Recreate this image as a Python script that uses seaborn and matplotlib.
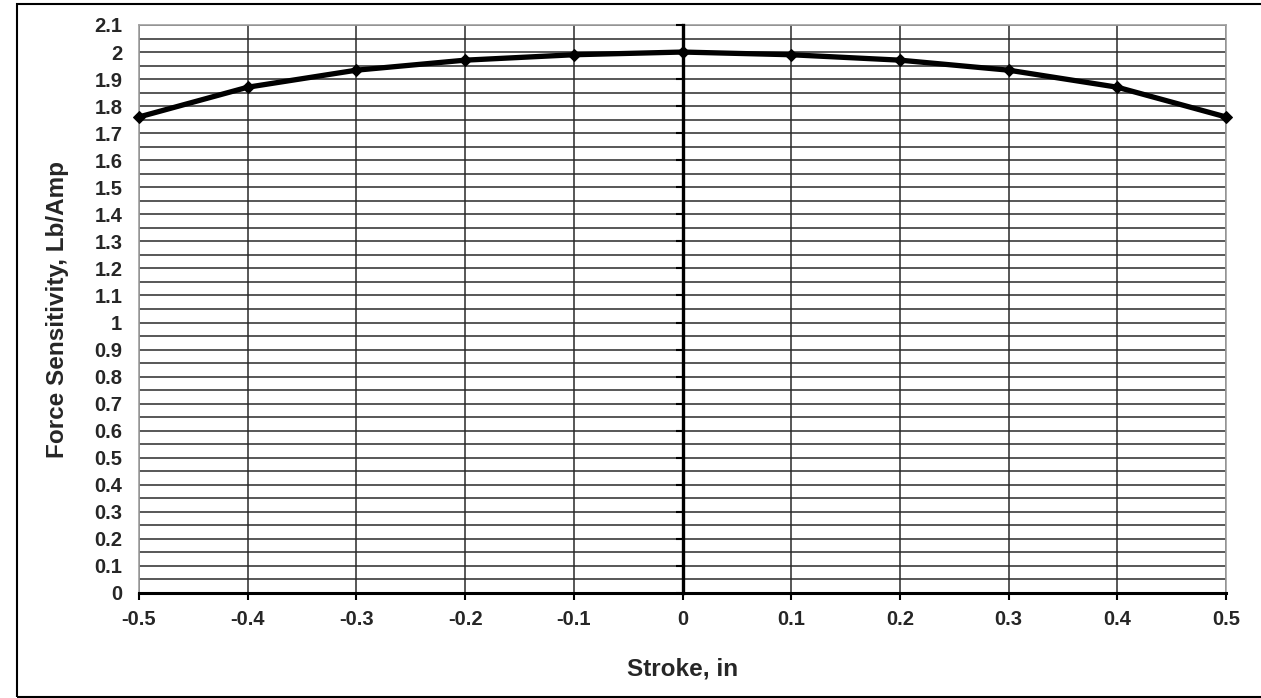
import matplotlib
matplotlib.use("Agg")
import matplotlib.pyplot as plt
import seaborn as sns
import numpy as np
import pandas as pd
from matplotlib.patches import Rectangle
from matplotlib.ticker import MultipleLocator

stroke = [-0.5, -0.4, -0.3, -0.2, -0.1, 0.0, 0.1, 0.2, 0.3, 0.4, 0.5]
sensitivity = [1.76, 1.87, 1.933, 1.97, 1.99, 2.0, 1.99, 1.97, 1.933, 1.87, 1.76]
x_ticks = [-0.5, -0.4, -0.3, -0.2, -0.1, 0, 0.1, 0.2, 0.3, 0.4, 0.5]
x_tick_labels = ["-0.5", "-0.4", "-0.3", "-0.2", "-0.1", "0", "0.1", "0.2", "0.3", "0.4", "0.5"]
y_ticks = [round(i * 0.1, 1) for i in range(22)]
y_tick_labels = [f"{v:g}" for v in y_ticks]

sns.set_theme(style="white")
plt.rcParams['font.family'] = ['Liberation Sans', 'DejaVu Sans']
plt.rcParams['font.weight'] = 'bold'

df = pd.DataFrame({"stroke": stroke, "sens": sensitivity})

fig = plt.figure(figsize=(12.61, 6.98), dpi=100)
ax = fig.add_axes([139/1261, 1 - 593/698, (1226-139)/1261, (593-25)/698])

# grid
ax.set_axisbelow(True)
ax.yaxis.set_minor_locator(MultipleLocator(0.05))
ax.grid(True, which='both', axis='y', color='#2a2a2a', lw=1.1)
ax.grid(True, which='major', axis='x', color='#2a2a2a', lw=1.1)

sns.lineplot(data=df, x="stroke", y="sens", ax=ax, color='black', lw=3.8,
             marker='D', markersize=6, markeredgecolor='black', zorder=5, clip_on=False)

ax.set_xlim(-0.5, 0.5)
ax.set_ylim(0, 2.1)
ax.set_xticks(x_ticks)
ax.set_xticklabels(x_tick_labels, fontsize=14.5, fontweight='bold')
ax.set_yticks(y_ticks)
ax.set_yticklabels(y_tick_labels, fontsize=14.5, fontweight='bold')

ax.tick_params(axis='x', which='major', direction='out', length=5, width=1.5, color='black', pad=7, bottom=True)
ax.tick_params(axis='y', which='both', length=0, pad=12, left=True)

for s in ['left', 'top', 'right']:
    ax.spines[s].set_color('#a0a0a0')
    ax.spines[s].set_linewidth(1.2)
ax.spines['bottom'].set_color('black')
ax.spines['bottom'].set_linewidth(2.2)

ax.set_xlabel("Stroke, in", fontsize=17.5, fontweight='bold')
ax.set_ylabel("Force Sensitivity, Lb/Amp", fontsize=17.5, fontweight='bold')
ax.xaxis.set_label_coords(0.5, -0.114)
ax.yaxis.set_label_coords(-0.064, 0.5)

# central vertical axis at x = 0
ax2 = ax.twinx()
ax2.set_ylim(0, 2.1)
ax2.set_yticks(y_ticks)
ax2.tick_params(axis='y', direction='in', length=5, width=1.5, color='black', labelright=False)
ax2.spines['right'].set_position(('data', 0))
ax2.spines['right'].set_color('black')
ax2.spines['right'].set_linewidth(2.4)
for s in ['left', 'top', 'bottom']:
    ax2.spines[s].set_visible(False)
ax2.grid(False)

# outer frame
fig.patches.append(Rectangle((17/1261, 1/698), 1.2, 1 - 5/698, transform=fig.transFigure,
                             fill=False, edgecolor='black', lw=1.5))

fig.savefig("out.png", dpi=100)
